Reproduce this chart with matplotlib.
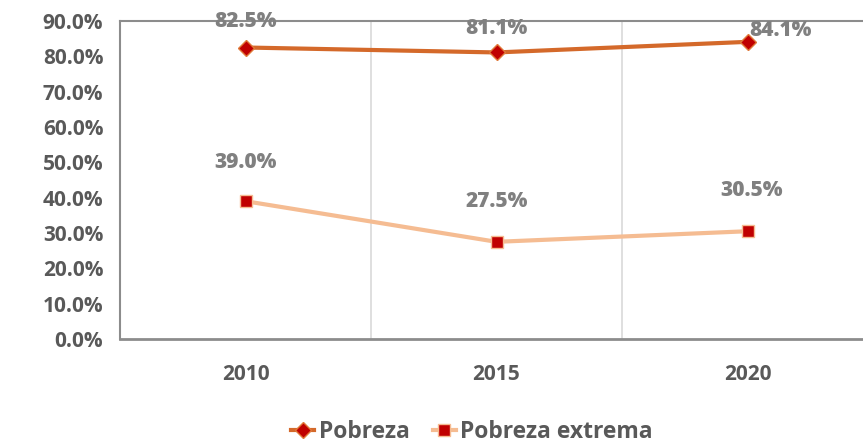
import matplotlib.pyplot as plt
from matplotlib.ticker import FuncFormatter

years = ["2010", "2015", "2020"]
pobreza = [82.5, 81.1, 84.1]
extrema = [39.0, 27.5, 30.5]
yticks = [0, 10, 20, 30, 40, 50, 60, 70, 80, 90]

plt.rcParams["font.family"] = ["Open Sans", "DejaVu Sans"]
plt.rcParams["font.weight"] = "bold"

fig = plt.figure(figsize=(8.63, 4.47), dpi=100)
ax = fig.add_axes([120 / 863, 1 - 339 / 447, 753 / 863, 318 / 447])

x = range(len(years))
ax.plot(x, pobreza, color="#D4692A", linewidth=3, marker="D", markersize=8,
        markerfacecolor="#C00000", markeredgecolor="#E07A3A", markeredgewidth=1,
        label="Pobreza", zorder=3)
ax.plot(x, extrema, color="#F5BC92", linewidth=3, marker="s", markersize=9,
        markerfacecolor="#C00000", markeredgecolor="#F5BC92", markeredgewidth=1,
        label="Pobreza extrema", zorder=3)

# etiquetas de datos
offs_p = [(0, 19), (0, 17), (24, 8)]
for i, v in enumerate(pobreza):
    ax.annotate(f"{v:.1f}%", (i, v), xytext=offs_p[i], textcoords="offset points",
                ha="center", va="center", fontsize=15, fontweight="heavy", color="#808080")
offs_e = [(0, 28), (0, 29), (3, 29)]
for i, v in enumerate(extrema):
    ax.annotate(f"{v:.1f}%", (i, v), xytext=offs_e[i], textcoords="offset points",
                ha="center", va="center", fontsize=15, fontweight="heavy", color="#808080")

ax.set_xlim(-0.5, 2.5)
ax.set_ylim(0, 90)
ax.set_yticks(yticks)
ax.yaxis.set_major_formatter(FuncFormatter(lambda v, p: f"{v:.1f}%"))
ax.set_xticks(list(x))
ax.set_xticklabels(years)
for b in [0.5, 1.5]:
    ax.axvline(b, color="#D9D9D9", linewidth=1.2, zorder=1)

ax.tick_params(axis="y", length=0, pad=12, labelsize=15, labelcolor="#595959")
ax.tick_params(axis="x", length=0, pad=18, labelsize=15, labelcolor="#595959")
for s in ["left", "top", "right"]:
    ax.spines[s].set_color("#8C8C8C")
    ax.spines[s].set_linewidth(1.5)
ax.spines["bottom"].set_color("#8C8C8C")
ax.spines["bottom"].set_linewidth(2)

leg = fig.legend(loc="center", bbox_to_anchor=(472 / 863, 1 - 432 / 447), ncol=2,
                 frameon=False, fontsize=16.5, handlelength=1.0, columnspacing=1.0,
                 handletextpad=0.2)
for t in leg.get_texts():
    t.set_color("#595959")

fig.savefig("out.png", dpi=100)
